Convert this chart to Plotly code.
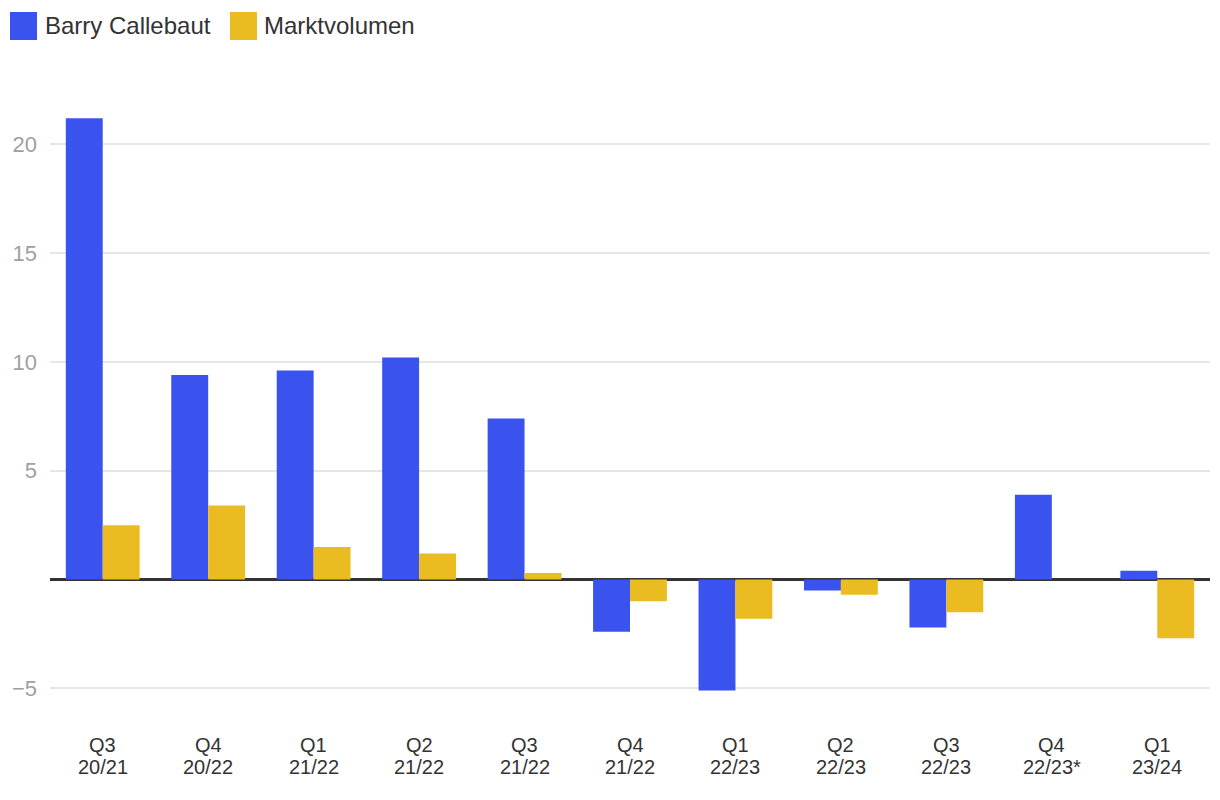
import plotly.graph_objects as go

quarters = ["Q3", "Q4", "Q1", "Q2", "Q3", "Q4", "Q1", "Q2", "Q3", "Q4", "Q1"]
years = ["20/21", "20/22", "21/22", "21/22", "21/22", "21/22", "22/23", "22/23", "22/23", "22/23*", "23/24"]
categories = [f"{q} {y}" for q, y in zip(quarters, years)]
barry_callebaut = [21.2, 9.4, 9.6, 10.2, 7.4, -2.4, -5.1, -0.5, -2.2, 3.9, 0.4]
marktvolumen = [2.5, 3.4, 1.5, 1.2, 0.3, -1.0, -1.8, -0.7, -1.5, 0.0, -2.7]
series_names = ["Barry Callebaut", "Marktvolumen"]
colors = ["#3A53EE", "#EBBC22"]
y_tickvals = [-5, 5, 10, 15, 20]

# page is rendered with an 8px body margin; keep the figure inside the 1220x800 window
OFF = 8
W, H = 1204, 784
ML, MR, MT, MB = 42, 2, 71, 71
PW, PH = W - ML - MR, H - MT - MB

def px_x(px):
    return (px - OFF - ML) / PW

def px_y(py):
    return (H - MB - (py - OFF)) / PH

fig = go.Figure()
for name, vals, col in zip(series_names, [barry_callebaut, marktvolumen], colors):
    fig.add_trace(go.Bar(x=categories, y=vals, name=name, marker=dict(color=col, line=dict(width=0)),
                         showlegend=False))

font = "Liberation Sans, Arial, Helvetica, sans-serif"

shapes = []
annotations = []
legend_pos = [(10, 43), (230, 262)]
for (sx, tx), name, col in zip(legend_pos, series_names, colors):
    shapes.append(dict(type="rect", xref="paper", yref="paper",
                       x0=px_x(sx), x1=px_x(sx + 27), y0=px_y(40), y1=px_y(12),
                       fillcolor=col, line=dict(width=0)))
    annotations.append(dict(text=name, xref="paper", yref="paper", x=px_x(tx), y=px_y(25),
                            xanchor="left", yanchor="middle", showarrow=False,
                            font=dict(family=font, size=24, color="#333333")))

# category labels in two lines
for cat, q, y in zip(categories, quarters, years):
    for txt, py in ((q, 745), (y, 767)):
        annotations.append(dict(text=txt, xref="x", yref="paper", x=cat, y=px_y(py),
                                xanchor="center", yanchor="middle", showarrow=False,
                                font=dict(family=font, size=20, color="#333333")))

fig.update_layout(
    width=W, height=H,
    margin=dict(l=ML, r=MR, t=MT, b=MB),
    paper_bgcolor="white", plot_bgcolor="white",
    barmode="group", bargap=0.3, bargroupgap=0,
    font=dict(family=font),
    shapes=shapes, annotations=annotations,
    xaxis=dict(showgrid=False, showline=False, ticks="", showticklabels=False),
    yaxis=dict(range=[-6.5, 23], tickvals=y_tickvals, showgrid=True, gridcolor="#E6E6E6",
               gridwidth=1.5, zeroline=True, zerolinecolor="#333333", zerolinewidth=2.5,
               showline=False, ticks="", tickfont=dict(size=22, color="#A0A0A0", family=font),
               ticklabelstandoff=12),
)

fig.write_html("out.html")
